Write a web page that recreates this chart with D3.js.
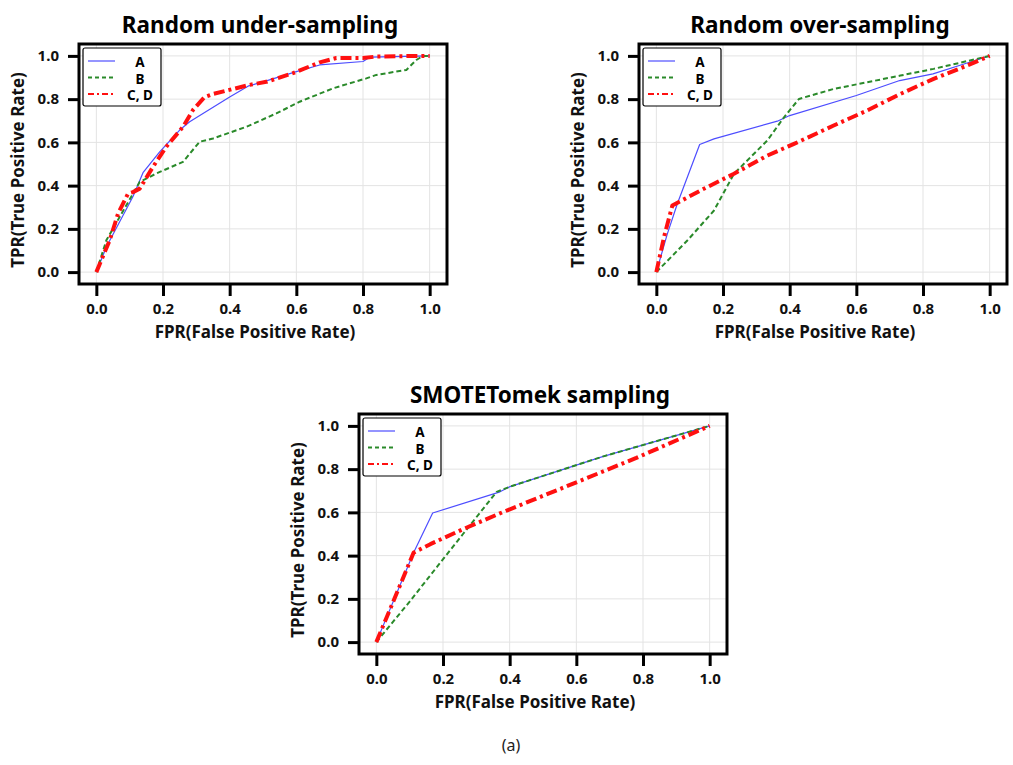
<!DOCTYPE html>
<html>
<head>
<meta charset="utf-8">
<script src="https://cdn.jsdelivr.net/npm/d3@7"></script>
<style>
  body { margin: 0; background: #fff; }
  text { font-family: "Noto Sans", "Open Sans", sans-serif; }
</style>
</head>
<body>
<svg id="chart" width="1013" height="765"></svg>
<script>
// ROC curves: [FPR, TPR]
const underA = [[0,0],[0.03,0.116],[0.11,0.35],[0.14,0.46],[0.19,0.556],[0.25,0.657],[0.28,0.695],[0.40,0.81],[0.455,0.86],[0.50,0.88],[0.60,0.927],[0.67,0.958],[0.80,0.974],[0.82,0.994],[1,1]];
const underB = [[0,0],[0.03,0.147],[0.11,0.363],[0.13,0.417],[0.18,0.456],[0.26,0.51],[0.31,0.603],[0.35,0.618],[0.45,0.672],[0.54,0.734],[0.61,0.788],[0.71,0.85],[0.81,0.896],[0.84,0.912],[0.93,0.935],[0.96,0.981],[0.98,1],[1,1]];
const underCD = [[0,0],[0.04,0.147],[0.065,0.27],[0.095,0.363],[0.11,0.37],[0.13,0.386],[0.17,0.487],[0.21,0.58],[0.26,0.672],[0.29,0.75],[0.325,0.81],[0.35,0.824],[0.46,0.866],[0.51,0.88],[0.59,0.92],[0.67,0.97],[0.72,0.99],[0.80,0.99],[0.84,0.997],[0.98,1],[1,1]];

const overA = [[0,0],[0.033,0.177],[0.063,0.316],[0.13,0.59],[0.173,0.616],[0.363,0.698],[0.40,0.724],[0.60,0.817],[0.73,0.886],[0.83,0.917],[0.93,0.966],[1,1]];
const overB = [[0,0],[0.093,0.146],[0.173,0.285],[0.233,0.455],[0.333,0.609],[0.383,0.716],[0.428,0.801],[0.532,0.847],[0.732,0.909],[0.832,0.94],[1,1]];
const overCD = [[0,0],[0.023,0.162],[0.048,0.308],[0.133,0.378],[0.233,0.455],[0.333,0.539],[0.413,0.593],[0.532,0.678],[0.632,0.747],[0.732,0.824],[0.832,0.894],[0.932,0.955],[1,1]];

const smoteA = [[0,0],[0.112,0.414],[0.169,0.597],[0.371,0.695],[0.401,0.719],[0.681,0.859],[1,1]];
const smoteB = [[0,0],[0.10,0.1875],[0.18,0.344],[0.26,0.5],[0.361,0.695],[0.401,0.719],[0.681,0.859],[1,1]];
const smoteCD = [[0,0],[0.112,0.414],[0.162,0.453],[0.261,0.523],[0.381,0.602],[0.581,0.727],[0.78,0.852],[1,1]];

const seriesNames = ["A", "B", "C, D"];
const titles = ["Random under-sampling", "Random over-sampling", "SMOTETomek sampling"];
const tickValues = [0, 0.2, 0.4, 0.6, 0.8, 1.0];
const xLabel = "FPR(False Positive Rate)";
const yLabel = "TPR(True Positive Rate)";

const styles = [
  { color: "#4d4dff", width: 1.2, dash: null },
  { color: "#2a8a2a", width: 2, dash: "5,3" },
  { color: "#ff1010", width: 4, dash: "11,4,3,4" }
];

const svg = d3.select("#chart");

function drawPanel(left, top, title, curves) {
  const W = 368, H = 240;
  const g = svg.append("g").attr("transform", `translate(${left},${top})`);

  const x = d3.scaleLinear().domain([-0.052, 1.052]).range([0, W]);
  const y = d3.scaleLinear().domain([-0.055, 1.055]).range([H, 0]);

  // grid
  g.append("g").selectAll("line").data(tickValues).join("line")
    .attr("x1", d => x(d)).attr("x2", d => x(d))
    .attr("y1", 0).attr("y2", H)
    .attr("stroke", "#e3e3e3").attr("stroke-width", 1);
  g.append("g").selectAll("line").data(tickValues).join("line")
    .attr("y1", d => y(d)).attr("y2", d => y(d))
    .attr("x1", 0).attr("x2", W)
    .attr("stroke", "#e3e3e3").attr("stroke-width", 1);

  // curves (blue, then green, then red on top)
  const line = d3.line().x(d => x(d[0])).y(d => y(d[1]));
  curves.forEach((c, i) => {
    g.append("path").datum(c)
      .attr("d", line)
      .attr("fill", "none")
      .attr("stroke", styles[i].color)
      .attr("stroke-width", styles[i].width)
      .attr("stroke-dasharray", styles[i].dash)
      .attr("stroke-linejoin", "round");
  });

  // axes
  const xAxis = g.append("g").attr("transform", `translate(0,${H})`)
    .call(d3.axisBottom(x).tickValues(tickValues).tickFormat(d3.format(".1f")).tickSize(12).tickPadding(7));
  const yAxis = g.append("g")
    .call(d3.axisLeft(y).tickValues(tickValues).tickFormat(d3.format(".1f")).tickSize(11).tickPadding(9));
  [xAxis, yAxis].forEach(a => {
    a.select(".domain").remove();
    a.selectAll(".tick line").attr("stroke", "#000").attr("stroke-width", 3);
    a.selectAll(".tick text").attr("fill", "#111").style("font-size", "15px").style("font-weight", "bold")
      .style("font-family", "'Noto Sans', sans-serif");
  });

  // frame
  g.append("rect").attr("x", 0).attr("y", 0).attr("width", W).attr("height", H)
    .attr("fill", "none").attr("stroke", "#000").attr("stroke-width", 3);

  // title
  g.append("text").attr("x", W / 2 - 3).attr("y", -11)
    .attr("text-anchor", "middle").style("font-size", "22.5px").style("font-weight", "bold")
    .text(title);

  // axis labels
  g.append("text").attr("x", W / 2 - 8).attr("y", H + 54)
    .attr("text-anchor", "middle").style("font-size", "17px").style("font-weight", "bold").attr("fill", "#111")
    .text(xLabel);
  g.append("text").attr("transform", `translate(-55,${H / 2 + 6}) rotate(-90)`)
    .attr("text-anchor", "middle").style("font-size", "17px").style("font-weight", "bold").attr("fill", "#111")
    .text(yLabel);

  // legend
  const lg = g.append("g").attr("transform", "translate(4,4)");
  lg.append("rect").attr("width", 78).attr("height", 58).attr("rx", 2)
    .attr("fill", "#fff").attr("stroke", "#000").attr("stroke-width", 1.2);
  seriesNames.forEach((name, i) => {
    const yy = 13 + i * 16.5;
    lg.append("line").attr("x1", 5).attr("x2", 32).attr("y1", yy).attr("y2", yy)
      .attr("stroke", styles[i].color).attr("stroke-width", Math.min(styles[i].width, 2))
      .attr("stroke-dasharray", i === 0 ? null : (i === 1 ? "4,3" : "6,3,2,3"));
    lg.append("text").attr("x", 57).attr("y", yy + 6).attr("text-anchor", "middle")
      .style("font-size", "13.5px").style("font-weight", "bold").text(name);
  });
}

drawPanel(79, 44, titles[0], [underA, underB, underCD]);
drawPanel(639, 44, titles[1], [overA, overB, overCD]);
drawPanel(359, 414, titles[2], [smoteA, smoteB, smoteCD]);

svg.append("text").attr("x", 511).attr("y", 751).attr("text-anchor", "middle")
  .style("font-size", "16px").attr("fill", "#222").text("(a)");
</script>
</body>
</html>
